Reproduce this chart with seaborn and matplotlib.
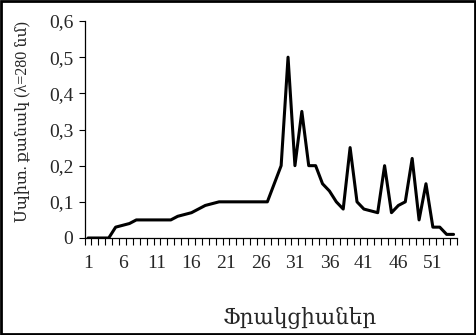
import matplotlib
matplotlib.use("Agg")
import matplotlib.pyplot as plt
import seaborn as sns
import numpy as np
import pandas as pd
from matplotlib.ticker import FixedLocator, FuncFormatter

fractions = list(range(1, 55))
protein = [0, 0, 0, 0, 0.03, 0.035, 0.04, 0.05, 0.05, 0.05,
           0.05, 0.05, 0.05, 0.06, 0.065, 0.07, 0.08, 0.09, 0.095, 0.1,
           0.1, 0.1, 0.1, 0.1, 0.1, 0.1, 0.1, 0.15, 0.2, 0.5,
           0.2, 0.35, 0.2, 0.2, 0.15, 0.13, 0.1, 0.08, 0.25, 0.1,
           0.08, 0.075, 0.07, 0.2, 0.07, 0.09, 0.1, 0.22, 0.05, 0.15,
           0.03, 0.03, 0.01, 0.01]
x_tick_labels = [1, 6, 11, 16, 21, 26, 31, 36, 41, 46, 51]
y_ticks = [0, 0.1, 0.2, 0.3, 0.4, 0.5, 0.6]
x_label = "Ֆրակցիաներ"
y_label = "Սպիտ. քանակ (λ=280 նմ)"

sns.set_style("white")
plt.rcParams['font.family'] = ['Liberation Serif', 'DejaVu Serif']

df = pd.DataFrame({"x": fractions, "y": protein})

fig = plt.figure(figsize=(4.76, 3.35), dpi=100)
ax = fig.add_axes([84.6/476, 1 - 238/335, (457 - 84.6)/476, (238 - 21)/335])
sns.lineplot(data=df, x="x", y="y", ax=ax, color="black", linewidth=2.2)

ax.set_xlim(0.5, len(fractions) + 0.5)
ax.set_ylim(0, 0.6)
ax.xaxis.set_major_locator(FixedLocator(x_tick_labels))
ax.xaxis.set_minor_locator(FixedLocator(np.arange(0.5, len(fractions) + 1, 1)))
ax.set_yticks(y_ticks)
ax.yaxis.set_major_formatter(FuncFormatter(lambda v, p: "0" if abs(v) < 1e-9 else f"{v:.1f}".replace(".", ",")))
ax.tick_params(axis="x", which="major", length=0, pad=12, labelsize=14)
ax.tick_params(axis="x", which="minor", length=5, width=0.8, direction="out", bottom=True, color="black")
ax.tick_params(axis="y", which="major", length=4, width=0.8, direction="out", left=True, color="black", labelsize=14, pad=4)

for s in ["top", "right"]:
    ax.spines[s].set_visible(False)
for s in ["left", "bottom"]:
    ax.spines[s].set_color("black")
    ax.spines[s].set_linewidth(0.9)

ax.set_xlabel("")
ax.set_ylabel("")
fig.text(300/476, 1 - 318/335, x_label, ha="center", va="center", fontsize=15.5)
fig.text(22/476, 1 - 122/335, y_label, ha="center", va="center", rotation=90, fontsize=11.5)

border = plt.Rectangle((0.002, 0.003), 0.996, 0.994, transform=fig.transFigure,
                       fill=False, edgecolor="black", linewidth=2.0)
fig.patches.append(border)

fig.savefig("out.png", dpi=100)
